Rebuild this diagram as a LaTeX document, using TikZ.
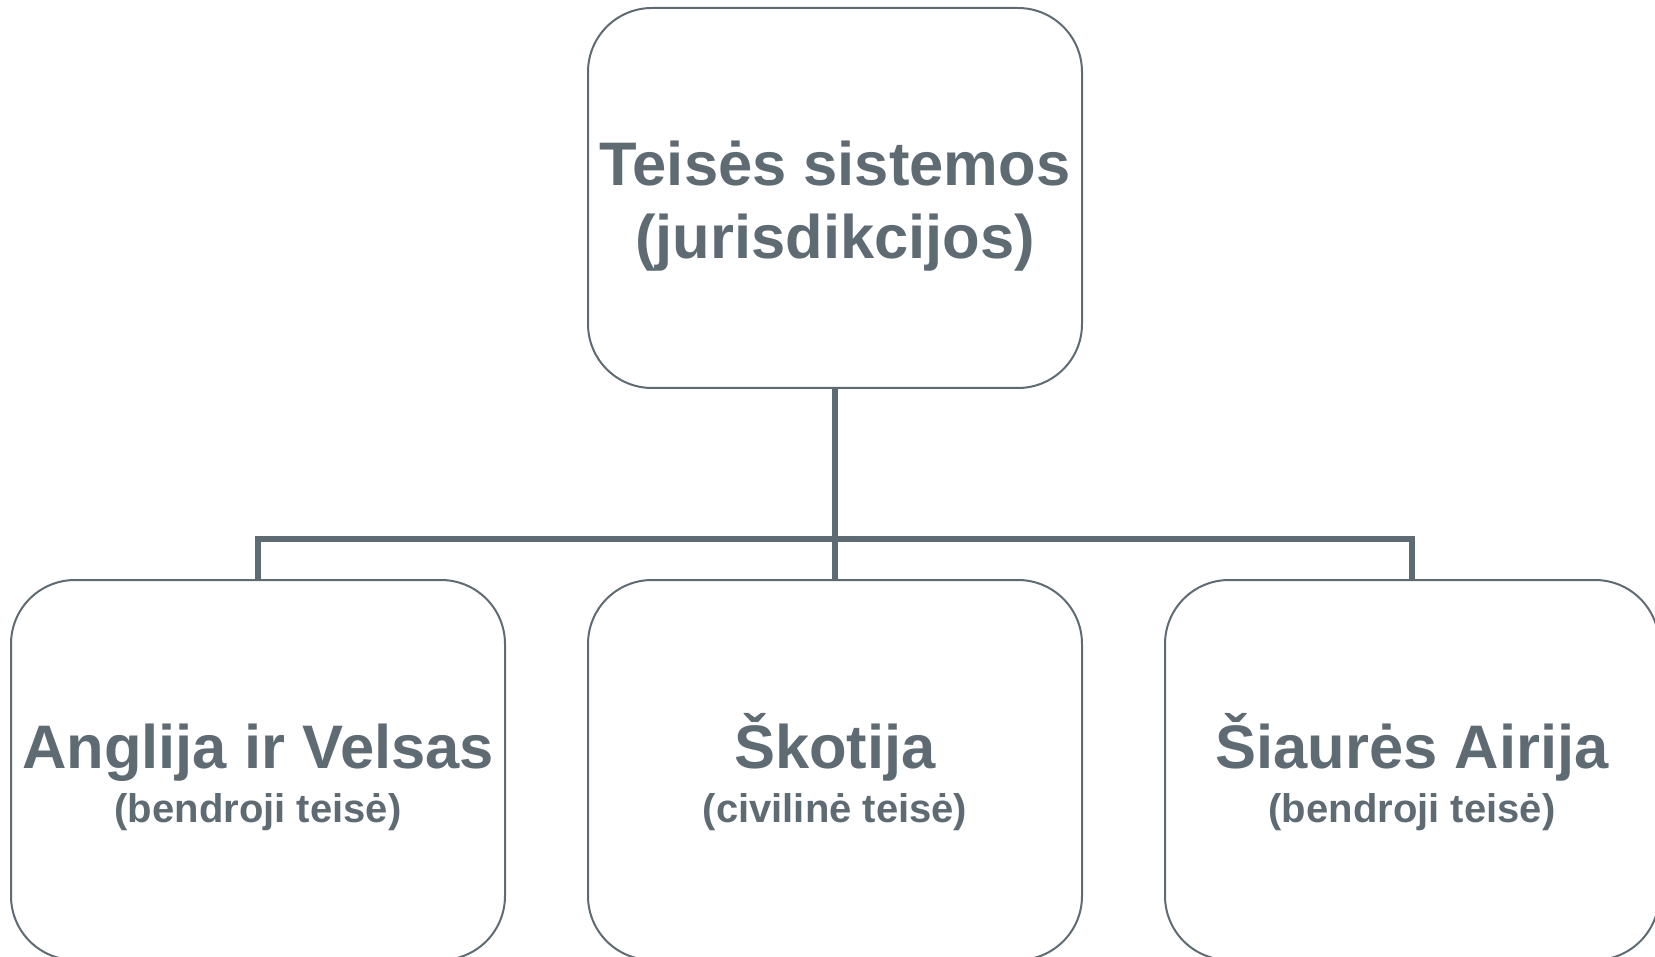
\documentclass[tikz,border=0pt]{standalone}
\usepackage{fontspec}
\setmainfont{Liberation Sans}
\usepackage{xcolor}
\usepackage{tikz}
\usetikzlibrary{calc}
\usetikzlibrary{positioning}

\definecolor{slate}{RGB}{95,107,115}

\begin{document}
\begin{tikzpicture}[x=1pt, y=-1pt]

        \def\d{190pt}
        \def\g{81pt}

        % Box and line looks
        \tikzset{
            box/.style={draw=slate, line width=2pt, rounded corners=64pt,
                minimum width=494pt, minimum height=380pt, inner sep=0pt,
                align=center, text=slate},
            headfont/.style={font=\fontsize{61.5}{73}\selectfont\bfseries},
            leaffont/.style={font=\fontsize{61.5}{54}\selectfont\bfseries},
            link/.style={draw=slate, line width=6pt}
        }

        \useasboundingbox (0, 0) rectangle (1655, 957);

        % Root and the three jurisdictions
        \begin{scope}
            \node (root) [box, headfont] at (835, 198)
                {\rule{0pt}{60pt}Teisės sistemos\\(jurisdikcijos)};
            \node (sco) [box, leaffont, below=\d of root]
                {\rule{0pt}{60pt}Škotija\\{\fontsize{40}{54}\selectfont (civilinė teisė)}};
            \node (eng) [box, leaffont, left=\g of sco]
                {\rule{0pt}{60pt}Anglija ir Velsas\\{\fontsize{40}{54}\selectfont (bendroji teisė)}};
            \node (nir) [box, leaffont, right=\g of sco]
                {\rule{0pt}{60pt}Šiaurės Airija\\{\fontsize{40}{54}\selectfont (bendroji teisė)}};
            \coordinate (hub) at ([yshift=40pt]sco.north);
        \end{scope}

        \begin{scope}
            \draw[link] (root.south) -- (sco.north);
            \draw[link] (eng.north) |- (hub) -| (nir.north);
        \end{scope}

\end{tikzpicture}
\end{document}
